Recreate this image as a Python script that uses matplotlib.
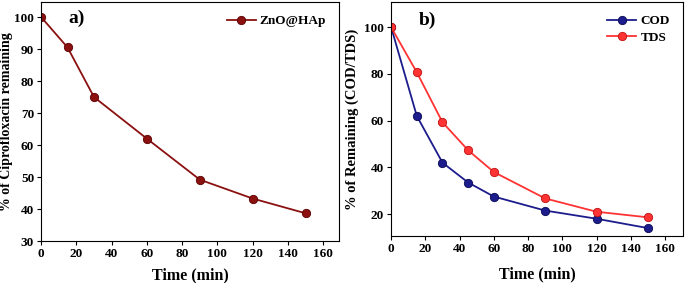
import numpy as np
import matplotlib
matplotlib.use("Agg")
import matplotlib.pyplot as plt

plt.rcParams['font.family'] = ['Liberation Serif', 'DejaVu Serif']
plt.rcParams['font.weight'] = 'bold'

# panel a
time_a = [0, 15, 30, 60, 90, 120, 150]
zno_hap = [100, 90.5, 75, 62, 49.2, 43.3, 38.7]

# panel b
time_b = [0, 15, 30, 45, 60, 90, 120, 150]
cod = [100, 62, 42, 33.5, 27.5, 21.5, 18, 14]
tds = [100, 80.7, 59.3, 47.3, 38, 26.7, 21, 18.6]


def style(ax):
    ax.tick_params(direction='out', length=3, width=0.8, labelsize=9.5, pad=2)
    for lab in ax.get_xticklabels() + ax.get_yticklabels():
        lab.set_fontweight('bold')
    for s in ax.spines.values():
        s.set_linewidth(0.8)


fig = plt.figure(figsize=(6.85, 2.83), dpi=100)

ax1 = fig.add_axes([0.060, 0.148, 0.435, 0.845])
ax1.plot(time_a, zno_hap, '-o', color='#8b1010', mec='#5a0000', mew=0.6,
         ms=6, lw=1.3, label='ZnO@HAp')
ax1.set_xlim(0, 169)
ax1.set_ylim(30, 104.7)
ax1.set_xticks(np.arange(0, 161, 20))
ax1.set_yticks(np.arange(30, 101, 10))
ax1.set_xlabel('Time (min)', fontsize=11.5, fontweight='bold', labelpad=5)
ax1.set_ylabel('% of Ciprofloxacin remaining', fontsize=10, fontweight='bold', labelpad=1)
ax1.text(0.09, 0.93, 'a)', transform=ax1.transAxes, fontsize=14,
         fontweight='bold', va='center')
ax1.legend(loc='upper right', frameon=False, fontsize=9.5, handlelength=2.2,
           handletextpad=0.3, borderaxespad=0.6)
style(ax1)

ax2 = fig.add_axes([0.571, 0.166, 0.426, 0.827])
ax2.plot(time_b, cod, '-o', color='#1c1c8c', mec='#0a0a55', mew=0.6,
         ms=6, lw=1.3, label='COD')
ax2.plot(time_b, tds, '-o', color='#ff3333', mec='#c01010', mew=0.6,
         ms=6, lw=1.3, label='TDS')
ax2.set_xlim(0, 170.5)
ax2.set_ylim(10.6, 110.8)
ax2.set_xticks(np.arange(0, 161, 20))
ax2.set_yticks(np.arange(20, 101, 20))
ax2.set_xlabel('Time (min)', fontsize=11.5, fontweight='bold', labelpad=8)
ax2.set_ylabel('% of Remaining (COD/TDS)', fontsize=10.5, fontweight='bold', labelpad=4)
ax2.text(0.095, 0.92, 'b)', transform=ax2.transAxes, fontsize=14,
         fontweight='bold', va='center')
ax2.legend(loc='upper right', frameon=False, fontsize=9.5, handlelength=2.2,
           handletextpad=0.3, borderaxespad=0.6, labelspacing=0.3)
style(ax2)

fig.savefig('out.png', dpi=100)
